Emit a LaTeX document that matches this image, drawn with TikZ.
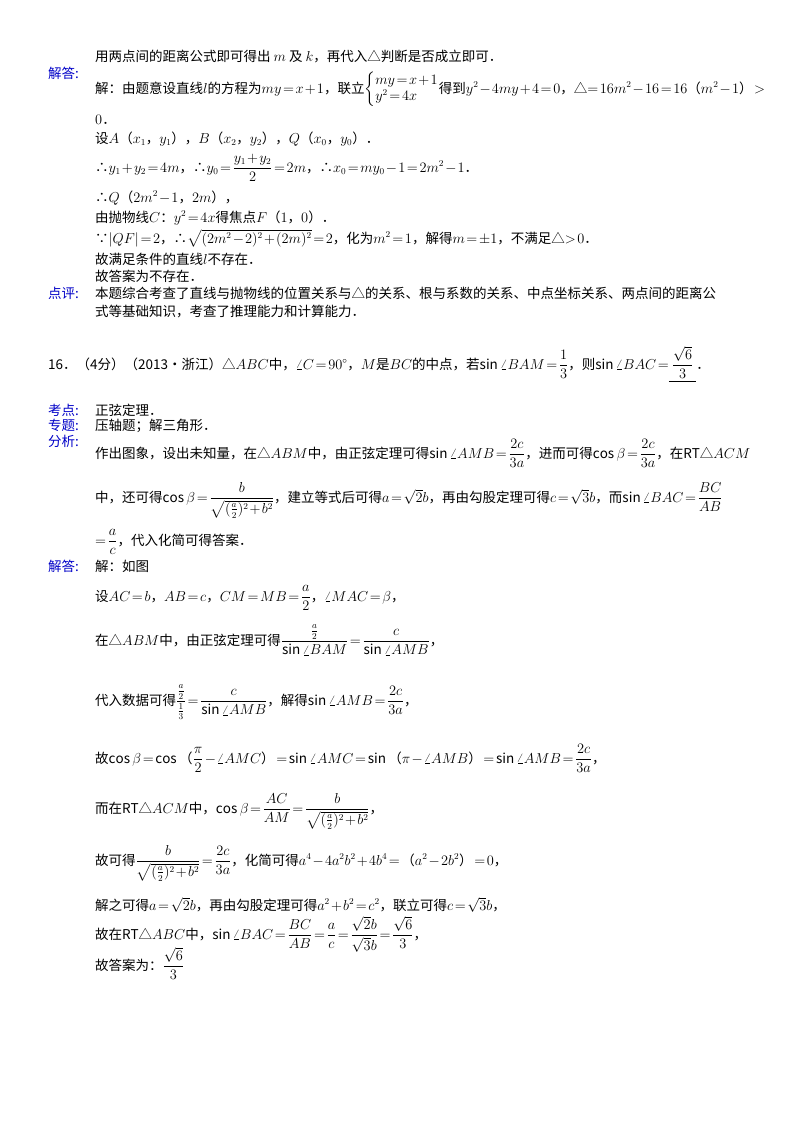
\documentclass[tikz,border=0pt]{standalone}
\usepackage{amsmath}
\usepackage{fontspec}
\setmainfont{Noto Sans CJK SC}
\medmuskip=1.5mu plus 1mu
\thickmuskip=2mu plus 1mu
\begin{document}
\begin{tikzpicture}[x=1pt,y=-1pt,
  t/.style={anchor=base west,inner sep=0pt,font=\fontsize{13.5}{16}\selectfont},
  lab/.style={t,text={rgb,255:red,0;green,0;blue,200}}]
\useasboundingbox (0,0) rectangle (800,1132);
\fill[white] (0,0) rectangle (800,1132);
\newcommand{\dfr}[2]{\dfrac{#1}{#2}}
\node[t] (l1) at (95,62) {用两点间的距离公式即可得出 $m$ 及 $k$，再代入△判断是否成立即可．};
\node[lab] (a1) at (48,78) {解答:};
\node[t] (l2) at (95,93) {解：由题意设直线$l$的方程为$my=x+1$，联立$\left\{\begin{array}{@{}l@{}}my=x+1\\ y^2=4x\end{array}\right.$得到$y^2-4my+4=0$，△$=16m^2-16=16（m^2-1）>$};
\node[t] (l3) at (95,124) {$0$．};
\node[t] (l4) at (95,143) {设$A（x_1，y_1）$，$B（x_2，y_2）$，$Q（x_0，y_0）$．};
\node[t] (l5) at (95,172) {∴$y_1+y_2=4m$，∴$y_0=\dfr{y_1+y_2}{2}=2m$，∴$x_0=my_0-1=2m^2-1$．};
\node[t] (l6) at (95,202) {∴$Q（2m^2-1，2m）$，};
\node[t] (l7) at (95,222) {由抛物线$C$：$y^2=4x$得焦点$F（1，0）$．};
\node[t] (l8) at (95,243) {∵$|QF|=2$，∴$\sqrt{(2m^2-2)^2+(2m)^2}=2$，化为$m^2=1$，解得$m=\pm1$，不满足△$>0$．};
\node[t] (l9) at (95,264) {故满足条件的直线$l$不存在．};
\node[t] (l10) at (95,281) {故答案为不存在．};
\node[lab] (a2) at (48,298) {点评:};
\node[t] (l11) at (95,298) {本题综合考查了直线与抛物线的位置关系与△的关系、根与系数的关系、中点坐标关系、两点间的距离公};
\node[t] (l12) at (95,316) {式等基础知识，考查了推理能力和计算能力．};
\node[t] (q) at (48,369) {16．（4分）（2013•浙江）△$ABC$中，$\angle C=90^\circ$，$M$是$BC$的中点，若$\sin\angle BAM=\dfr{1}{3}$，则$\sin\angle BAC=$\underline{\ $\dfr{\sqrt6}{3}$\ }．};
\node[lab] (a3) at (48,415) {考点:};
\node[t] (k1) at (95,415) {正弦定理．};
\node[lab] (a4) at (48,430) {专题:};
\node[t] (k2) at (95,430) {压轴题；解三角形．};
\node[lab] (a5) at (48,446) {分析:};
\node[t] (m1) at (95,458) {作出图象，设出未知量，在△$ABM$中，由正弦定理可得$\sin\angle AMB=\dfr{2c}{3a}$，进而可得$\cos\beta=\dfr{2c}{3a}$，在RT△$ACM$};
\node[t] (m2) at (95,502) {中，还可得$\cos\beta=\dfr{b}{\sqrt{(\frac a2)^2+b^2}}$，建立等式后可得$a=\sqrt2 b$，再由勾股定理可得$c=\sqrt3 b$，而$\sin\angle BAC=\dfr{BC}{AB}$};
\node[t] (m3) at (95,545) {$=\dfr{a}{c}$，代入化简可得答案．};
\node[lab] (a6) at (48,571) {解答:};
\node[t] (s1) at (95,571) {解：如图};
\node[t] (s2) at (95,601) {设$AC=b$，$AB=c$，$CM=MB=\dfr{a}{2}$，$\angle MAC=\beta$，};
\node[t] (s3) at (95,645) {在△$ABM$中，由正弦定理可得$\dfr{\frac a2}{\sin\angle BAM}=\dfr{c}{\sin\angle AMB}$，};
\node[t] (s4) at (95,705) {代入数据可得$\dfr{\frac a2}{\frac13}=\dfr{c}{\sin\angle AMB}$，解得$\sin\angle AMB=\dfr{2c}{3a}$，};
\node[t] (s5) at (95,763) {故$\cos\beta=\cos（\dfr{\pi}{2}-\angle AMC）=\sin\angle AMC=\sin（\pi-\angle AMB）=\sin\angle AMB=\dfr{2c}{3a}$，};
\node[t] (s6) at (95,813) {而在RT△$ACM$中，$\cos\beta=\dfr{AC}{AM}=\dfr{b}{\sqrt{(\frac a2)^2+b^2}}$，};
\node[t] (s7) at (95,865) {故可得$\dfr{b}{\sqrt{(\frac a2)^2+b^2}}=\dfr{2c}{3a}$，化简可得$a^4-4a^2b^2+4b^4=（a^2-2b^2）=0$，};
\node[t] (s8) at (95,910) {解之可得$a=\sqrt2 b$，再由勾股定理可得$a^2+b^2=c^2$，联立可得$c=\sqrt3 b$，};
\node[t] (s9) at (95,939) {故在RT△$ABC$中，$\sin\angle BAC=\dfr{BC}{AB}=\dfr{a}{c}=\dfr{\sqrt2 b}{\sqrt3 b}=\dfr{\sqrt6}{3}$，};
\node[t] (s10) at (95,970) {故答案为：$\dfr{\sqrt6}{3}$};
\end{tikzpicture}
\end{document}
